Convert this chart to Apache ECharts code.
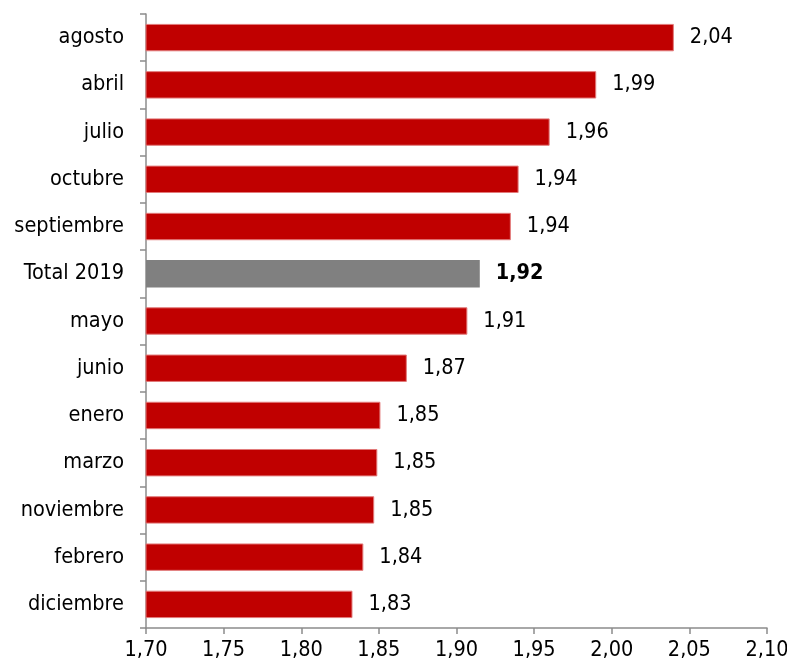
<!DOCTYPE html>
<html><head><meta charset="utf-8">
<script src="https://cdn.jsdelivr.net/npm/echarts@6/dist/echarts.min.js"></script>
<style>html,body{margin:0;padding:0;background:#fff;overflow:hidden}#c{width:787px;height:665px}</style>
</head><body><div id="c"></div>
<script>
const categories = ['agosto','abril','julio','octubre','septiembre','Total 2019','mayo','junio','enero','marzo','noviembre','febrero','diciembre'];
const values = [2.04,1.99,1.96,1.94,1.935,1.915,1.907,1.868,1.851,1.849,1.847,1.840,1.833];
const highlight = 'Total 2019';
const xTicks = {min:1.70, max:2.10, interval:0.05};
const fmt = v => v.toFixed(2).replace('.', ',');
const chart = echarts.init(document.getElementById('c'));
const font = '"Liberation Sans Narrow", "Arial Narrow", "DejaVu Sans Condensed", sans-serif';
chart.setOption({
  animation:false,
  grid:{left:146,right:20,top:14,bottom:37,containLabel:false,outerBoundsMode:'none'},
  xAxis:{type:'value',min:xTicks.min,max:xTicks.max,interval:xTicks.interval,
    axisLine:{show:true,lineStyle:{color:'#8c8c8c',width:1.5}},
    axisTick:{show:true,length:6,lineStyle:{color:'#8c8c8c',width:1.5}},
    splitLine:{show:false},
    axisLabel:{formatter:v=>fmt(v),color:'#000',fontSize:21.5,fontFamily:font,margin:11,hideOverlap:false}},
  yAxis:{type:'category',data:categories,inverse:true,
    axisLine:{show:true,lineStyle:{color:'#8c8c8c',width:1.5}},
    axisTick:{show:true,length:6,lineStyle:{color:'#8c8c8c',width:1.5}},
    axisLabel:{color:'#000',fontSize:21.5,fontFamily:font,margin:22}},
  series:[{type:'bar',barWidth:'58%',
    data:values.map((v,i)=>{
      const h = categories[i]===highlight;
      return {value:v,
        itemStyle:h?{color:'#808080'}:{color:'#C00000',borderColor:'#e27a7a',borderWidth:1},
        label:{fontWeight:h?'bold':'normal'}};
    }),
    label:{show:true,position:'right',distance:16,formatter:p=>fmt(p.value),color:'#000',fontSize:21.5,fontFamily:font}
  }]
});
</script></body></html>
